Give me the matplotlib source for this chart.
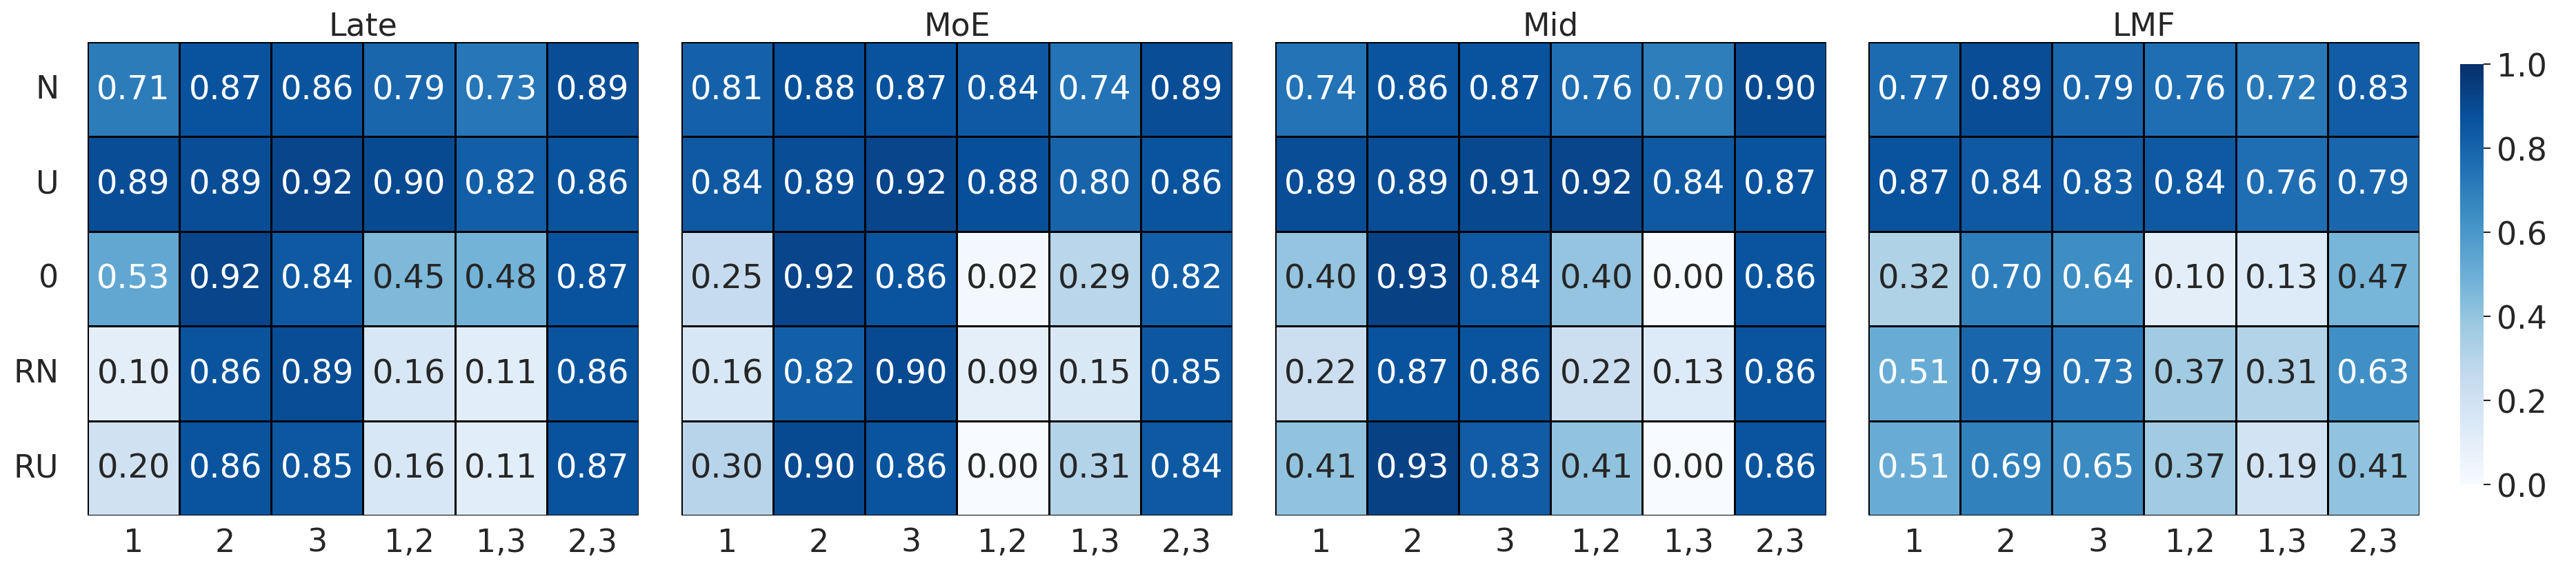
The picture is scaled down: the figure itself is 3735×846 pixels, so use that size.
import matplotlib
matplotlib.use("Agg")
import matplotlib.pyplot as plt
import seaborn as sns
import numpy as np

# row / column labels shared by all four panels
rows = ["N", "U", "0", "RN", "RU"]
cols = ["1", "2", "3", "1,2", "1,3", "2,3"]
titles = ["Late", "MoE", "Mid", "LMF"]

late = [[0.71, 0.87, 0.86, 0.79, 0.73, 0.89],
        [0.89, 0.89, 0.92, 0.90, 0.82, 0.86],
        [0.53, 0.92, 0.84, 0.45, 0.48, 0.87],
        [0.10, 0.86, 0.89, 0.16, 0.11, 0.86],
        [0.20, 0.86, 0.85, 0.16, 0.11, 0.87]]

moe = [[0.81, 0.88, 0.87, 0.84, 0.74, 0.89],
       [0.84, 0.89, 0.92, 0.88, 0.80, 0.86],
       [0.25, 0.92, 0.86, 0.02, 0.29, 0.82],
       [0.16, 0.82, 0.90, 0.09, 0.15, 0.85],
       [0.30, 0.90, 0.86, 0.00, 0.31, 0.84]]

mid = [[0.74, 0.86, 0.87, 0.76, 0.70, 0.90],
       [0.89, 0.89, 0.91, 0.92, 0.84, 0.87],
       [0.40, 0.93, 0.84, 0.40, 0.00, 0.86],
       [0.22, 0.87, 0.86, 0.22, 0.13, 0.86],
       [0.41, 0.93, 0.83, 0.41, 0.00, 0.86]]

lmf = [[0.77, 0.89, 0.79, 0.76, 0.72, 0.83],
       [0.87, 0.84, 0.83, 0.84, 0.76, 0.79],
       [0.32, 0.70, 0.64, 0.10, 0.13, 0.47],
       [0.51, 0.79, 0.73, 0.37, 0.31, 0.63],
       [0.51, 0.69, 0.65, 0.37, 0.19, 0.41]]

panels = [late, moe, mid, lmf]

plt.rcParams.update({'font.size': 11, 'text.color': '#262626',
                     'xtick.color': '#262626', 'ytick.color': '#262626'})

fig = plt.figure(figsize=(12.45, 2.8233), dpi=300)

lefts = [0.0340, 0.2645, 0.4950, 0.7253]
for i in range(4):
    ax = fig.add_axes([lefts[i], 0.1157, 0.2139, 0.8111])
    sns.heatmap(np.array(panels[i]), ax=ax, cmap="Blues", vmin=0, vmax=1,
                annot=True, fmt=".2f", annot_kws={'fontsize': 11.5},
                linewidths=0.7, linecolor='black', cbar=False,
                xticklabels=cols, yticklabels=rows if i == 0 else False)
    ax.set_title(titles[i], fontsize=11, pad=2.5)
    ax.tick_params(axis='x', length=0, pad=4, labelsize=11)
    ax.tick_params(axis='y', length=0, pad=10, labelsize=11, rotation=0)

#colorbar 0..1
cax = fig.add_axes([0.9550, 0.1688, 0.0091, 0.7202])
sm = plt.cm.ScalarMappable(cmap="Blues", norm=plt.Normalize(0, 1))
cb = fig.colorbar(sm, cax=cax, ticks=[0, 0.2, 0.4, 0.6, 0.8, 1.0])
cb.outline.set_visible(False)
cb.ax.tick_params(length=2.5, width=0.5, pad=2, labelsize=11)

fig.savefig("out.png", dpi=300)
